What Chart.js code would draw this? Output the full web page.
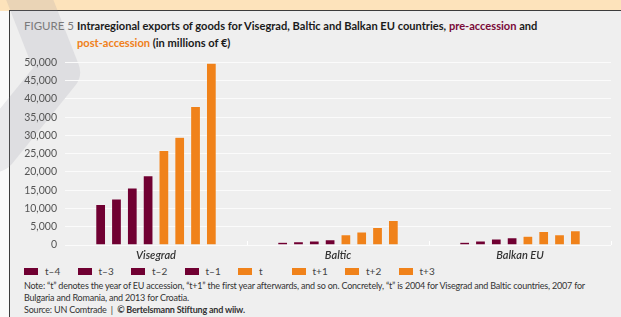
<!DOCTYPE html>
<html><head><meta charset="utf-8">
<script src="https://cdn.jsdelivr.net/npm/chart.js@4"></script>
<style>
html,body{margin:0;padding:0;}
body{width:621px;height:317px;overflow:hidden;position:relative;background:#fafafa;font-family:Lato,"Open Sans",sans-serif;}
#band{position:absolute;left:0;top:0;width:621px;height:11px;background:#fde3bb;}
#panel{position:absolute;left:9px;top:10px;width:612px;height:307px;background:#efefef;border-left:1.5px solid #3c3c3c;border-top:1.5px solid #3c3c3c;}
#wm{position:absolute;left:0;top:0;width:621px;height:317px;pointer-events:none;}
.t{position:absolute;white-space:nowrap;}
#fig{left:24px;top:19px;font-size:11.5px;color:#7a7a7a;line-height:14px;}
#title1{left:77px;top:19px;font-size:11.1px;font-weight:bold;color:#1a1a1a;line-height:14px;}
#title2{left:77px;top:36px;font-size:11.1px;font-weight:bold;color:#1a1a1a;line-height:14px;}
.pre{color:#7a0a38;}.post{color:#f08019;}
#wrap{position:absolute;left:0;top:48px;width:621px;height:217px;}
#legend{position:absolute;left:24px;top:265px;display:flex;font-size:10px;color:#444;line-height:13px;}
.li{width:53.5px;display:flex;align-items:center;}
.sw{width:14px;height:7px;margin-right:7px;}
#note{left:24px;top:280px;font-size:9px;letter-spacing:-0.2px;color:#333;line-height:12px;}
</style></head>
<body>
<div id="band"></div>
<div id="panel"></div>
<svg id="wm" viewBox="0 0 621 317"><polyline points="22,-20 58,72 -5,150" fill="none" stroke="rgba(140,145,160,0.17)" stroke-width="44" stroke-linecap="round" stroke-linejoin="round"/></svg>
<div class="t" id="fig">FIGURE 5</div>
<div class="t" id="title1">Intraregional exports of goods for Visegrad, Baltic and Balkan EU countries, <span class="pre">pre-accession</span> and</div>
<div class="t" id="title2"><span class="post">post-accession</span> (in millions of €)</div>
<div id="wrap"><canvas id="c"></canvas></div>
<div id="legend"></div>
<div class="t" id="note">Note: “t” denotes the year of EU accession, “t+1” the first year afterwards, and so on. Concretely, “t” is 2004 for Visegrad and Baltic countries, 2007 for<br>Bulgaria and Romania, and 2013 for Croatia.<br>Source: UN Comtrade &nbsp;|&nbsp; <b>© Bertelsmann Stiftung and wiiw.</b></div>
<script>
const categories = ["Visegrad", "Baltic", "Balkan EU"];
const periods = ["t–4", "t–3", "t–2", "t–1", "t", "t+1", "t+2", "t+3"];
const visegrad = [11100, 12600, 15600, 19000, 25900, 29500, 37900, 49800];
const baltic = [750, 900, 1150, 1450, 2800, 3600, 4850, 6700];
const balkan = [750, 1150, 1650, 2000, 2450, 3700, 2800, 3950];
const yTicks = [0, 5000, 10000, 15000, 20000, 25000, 30000, 35000, 40000, 45000, 50000];

const PRE = "#700032", POST = "#f0821a";
const colorOf = i => i < 4 ? PRE : POST;

const datasets = periods.map((p, i) => ({
  label: p,
  data: [visegrad[i], baltic[i], balkan[i]],
  backgroundColor: colorOf(i),
  borderColor: "rgba(255,255,255,0.35)",
  borderWidth: 0.6,
  categoryPercentage: 0.695,
  barPercentage: 0.63
}));

const lg = document.getElementById("legend");
periods.forEach((p, i) => {
  const d = document.createElement("div"); d.className = "li";
  d.innerHTML = '<span class="sw" style="background:' + colorOf(i) + '"></span><span>' + p + '</span>';
  lg.appendChild(d);
});

const boundaryTicks = {
  id: "boundaryTicks",
  afterDraw(chart) {
    const x = chart.scales.x, ctx = chart.ctx, b = chart.chartArea.bottom;
    const n = x.getLabels().length, w = (x.right - x.left) / n;
    ctx.save(); ctx.strokeStyle = "#ffffff"; ctx.lineWidth = 1;
    for (let i = 1; i <= n; i++) {
      const px = Math.round(x.left + i * w) + 0.5;
      ctx.beginPath(); ctx.moveTo(px, b - 4); ctx.lineTo(px, b); ctx.stroke();
    }
    ctx.restore();
  }
};

new Chart(document.getElementById("c"), {
  type: "bar",
  data: { labels: categories, datasets },
  options: {
    responsive: true, maintainAspectRatio: false, animation: false,
    layout: { padding: { left: 8, right: 10, top: 11, bottom: 0 } },
    plugins: { legend: { display: false }, tooltip: { enabled: false } },
    scales: {
      x: {
        grid: { display: false, drawTicks: false }, border: { display: false },
        ticks: { padding: 4, color: "#333", font: { family: "Lato", size: 11, style: "italic", weight: "600" } },
        afterFit(s) { s.height = 20; }
      },
      y: {
        min: 0, max: 50000,
        afterBuildTicks(s) { s.ticks = yTicks.map(v => ({ value: v })); },
        grid: { color: "#fbfbfb", lineWidth: 1, drawTicks: false },
        border: { display: false },
        ticks: { padding: 8, color: "#555", font: { family: "Lato", size: 10.5 },
          callback: v => v.toLocaleString("en-US") },
        afterFit(s) { s.width = 57; }
      }
    }
  },
  plugins: [boundaryTicks]
});
</script>
</body></html>
